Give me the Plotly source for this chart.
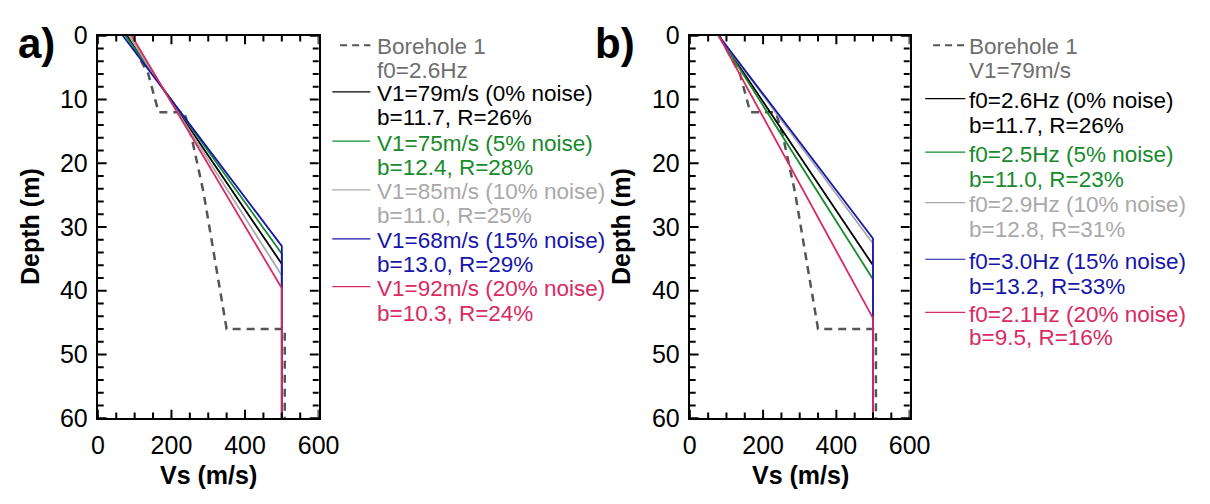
import plotly.graph_objects as go

W, H = 1210, 504

# ---------------- data ----------------
# Borehole 1 reference profile (Vs in m/s, depth in m)
bh_vs = [80, 137, 165, 235, 255, 287, 350, 508, 508]
bh_depth = [0, 6, 12, 12, 16, 24.5, 46, 46, 60]

# panel a: f0 = 2.6 Hz fixed, V1 varies with noise
a_v1 = [79, 75, 85, 68, 92]
a_b = [11.7, 12.4, 11.0, 13.0, 10.3]
a_R = [26, 28, 25, 29, 24]
a_vmax = [500, 500, 500, 500, 500]
a_depth_reach = [35.8, 34.2, 37.6, 33.0, 39.6]

# panel b: V1 = 79 m/s fixed, f0 varies with noise
b_f0 = [2.6, 2.5, 2.9, 3.0, 2.1]
b_v1 = [79, 79, 79, 79, 79]
b_b = [11.7, 11.0, 12.8, 13.2, 9.5]
b_R = [26, 23, 31, 33, 16]
b_vmax = [500, 500, 500, 500, 500]
b_depth_reach = [36.0, 38.2, 32.6, 31.8, 44.3]

noise = ["0% noise", "5% noise", "10% noise", "15% noise", "20% noise"]
max_depth = 60

# axis ticks
x_major = [0, 200, 400, 600]
x_minor = [50, 100, 150, 250, 300, 350, 450, 500, 550]
y_major = [0, 10, 20, 30, 40, 50, 60]
y_minor = [2, 4, 6, 8, 12, 14, 16, 18, 22, 24, 26, 28, 32, 34, 36, 38,
           42, 44, 46, 48, 52, 54, 56, 58]

colors = ["#000000", "#178a2c", "#a9a9a9", "#1616aa", "#da2a62"]
bh_color = "#555555"
head_color = "#6e6e6e"

FONT = "Liberation Sans, Arial, sans-serif"

# plot-area pixel geometry
PA = (93, 319)
PB = (699, 924)
PT, PBOT = 23, 428


def px(x):
    return x / W


def py(y):
    return 1 - y / H


fig = go.Figure()

for (xa, ya, v1s, vmax, reach) in [("x", "y", a_v1, a_vmax, a_depth_reach),
                                     ("x2", "y2", b_v1, b_vmax, b_depth_reach)]:
    fig.add_trace(go.Scatter(x=bh_vs, y=bh_depth, mode="lines", xaxis=xa, yaxis=ya,
                             line=dict(color=bh_color, width=2.5, dash="8px,6px"),
                             showlegend=False, hoverinfo="skip"))
    for i in range(5):
        fig.add_trace(go.Scatter(x=[v1s[i], vmax[i], vmax[i]],
                                 y=[0, reach[i], max_depth],
                                 mode="lines", xaxis=xa, yaxis=ya,
                                 line=dict(color=colors[i], width=1.8),
                                 showlegend=False))

ydom = [py(PBOT), py(PT)]

xax = dict(range=[0, 600], tickmode="array", tickvals=x_major,
           ticks="", showline=True, linewidth=2.2, linecolor="black",
           mirror=True, showgrid=False, zeroline=False,
           tickfont=dict(family=FONT, size=25, color="black"),
           ticklabelstandoff=4)
yax = dict(range=[60, 0], tickmode="array", tickvals=y_major,
           ticks="", showline=True, linewidth=2.2, linecolor="black",
           mirror=True, showgrid=False, zeroline=False,
           tickfont=dict(family=FONT, size=25, color="black"),
           ticklabelstandoff=3)

fig.update_layout(
    width=W, height=H, margin=dict(l=0, r=0, t=0, b=0),
    paper_bgcolor="white", plot_bgcolor="white", showlegend=False,
    xaxis=dict(xax, domain=[px(PA[0]), px(PA[1])], anchor="y"),
    yaxis=dict(yax, domain=ydom, anchor="x"),
    xaxis2=dict(xax, domain=[px(PB[0]), px(PB[1])], anchor="y2"),
    yaxis2=dict(yax, domain=ydom, anchor="x2"),
)

ann = []
shapes = []

# inside tick marks on all four sides, placed on the axes' own scales
ph = PBOT - PT
for (xr, yr, pw) in [("x", "y", PA[1] - PA[0]), ("x2", "y2", PB[1] - PB[0])]:
    for vals, ln, wd in [(x_major, 9, 2), (x_minor, 6, 2)]:
        for v in vals:
            for (a0, a1) in [(0, ln / ph), (1, 1 - ln / ph)]:
                shapes.append(dict(type="line", xref=xr, yref=yr + " domain",
                                   x0=v, x1=v, y0=a0, y1=a1, layer="above",
                                   line=dict(color="black", width=wd)))
    for vals, ln, wd in [(y_major, 9, 2), (y_minor, 6, 2)]:
        for v in vals:
            for (a0, a1) in [(0, ln / pw), (1, 1 - ln / pw)]:
                shapes.append(dict(type="line", xref=xr + " domain", yref=yr,
                                   x0=a0, x1=a1, y0=v, y1=v, layer="above",
                                   line=dict(color="black", width=wd)))


def text(x, y, s, color="black", size=22.5, bold=False, angle=0, xanchor="left"):
    ann.append(dict(x=px(x), y=py(y), xref="paper", yref="paper", text=s,
                    showarrow=False, xanchor=xanchor, yanchor="middle",
                    textangle=angle,
                    font=dict(family=FONT, size=size, color=color,
                              weight="bold" if bold else "normal")))


# panel labels and axis titles
text(30, 31, "a)", size=42, bold=True, xanchor="center")
text(622, 31, "b)", size=42, bold=True, xanchor="center")
text(206, 488, "Vs (m/s)", size=25, bold=True, xanchor="center")
text(812, 488, "Vs (m/s)", size=25, bold=True, xanchor="center")
text(24, 225, "Depth (m)", size=25, bold=True, angle=-90, xanchor="center")
text(629, 225, "Depth (m)", size=25, bold=True, angle=-90, xanchor="center")

# legends
leg_a_rows = [(84.5, 109.5), (136.7, 162.3), (188.3, 213.3), (240, 265.7), (290.7, 317)]
leg_b_rows = [(91.7, 118), (148.3, 175), (201.7, 228.3), (261.7, 288.3), (318, 343)]

for (tx, lx0, lx1, rows, hdr2, l1, l2) in [
    (377, 333, 372, leg_a_rows, "f0=%.1fHz" % b_f0[0],
     ["V1=%dm/s (%s)" % (a_v1[i], noise[i]) for i in range(5)],
     ["b=%.1f, R=%d%%" % (a_b[i], a_R[i]) for i in range(5)]),
    (983, 940, 981, leg_b_rows, "V1=%dm/s" % a_v1[0],
     ["f0=%.1fHz (%s)" % (b_f0[i], noise[i]) for i in range(5)],
     ["b=%.1f, R=%d%%" % (b_b[i], b_R[i]) for i in range(5)])]:
    text(tx, 34.5, "Borehole 1", color=head_color)
    text(tx, 60, hdr2, color=head_color)
    shapes.append(dict(type="line", xref="paper", yref="paper",
                       x0=px(lx0 + 8), x1=px(lx1), y0=py(33), y1=py(33),
                       line=dict(color=bh_color, width=2, dash="7px,5px")))
    for i in range(5):
        y1, y2 = rows[i]
        text(tx, y1, l1[i], color=colors[i])
        text(tx, y2, l2[i], color=colors[i])
        shapes.append(dict(type="line", xref="paper", yref="paper",
                           x0=px(lx0), x1=px(lx1), y0=py(y1 - 2), y1=py(y1 - 2),
                           line=dict(color=colors[i], width=1.2)))

fig.update_layout(annotations=ann, shapes=shapes)
fig.write_html("out.html")
